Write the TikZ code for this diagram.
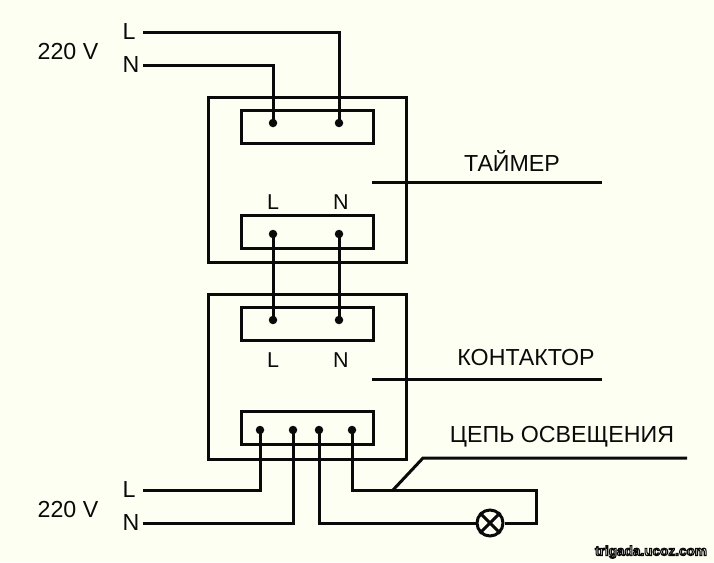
\documentclass[tikz,border=0pt]{standalone}
\usepackage{fontspec}
\setmainfont{Liberation Sans}
\definecolor{paper}{HTML}{FDFFF3}
\definecolor{ink}{HTML}{0A0A0A}
\newcommand{\lbl}{\fontsize{23.2}{27}\selectfont}
\newcommand{\lblsm}{\fontsize{21.5}{25}\selectfont}
\newcommand{\outlined}[1]{\special{pdf:code q 2 Tr 1.1 w 0.04 0.04 0.04 RG}#1\special{pdf:code Q}}
\tikzset{
  wire/.style={ink,line width=3pt},
  box/.style={draw=ink,line width=3pt,rectangle,inner sep=0pt},
  dot/.style={circle,fill=ink,inner sep=0pt,minimum size=8.5pt},
  txt/.style={text=ink,inner sep=0pt,font=\lbl}
}
\begin{document}
\begin{tikzpicture}[x=1pt,y=-1pt]
  \useasboundingbox (0,0) rectangle (714,562);
  \fill[paper] (0,0) rectangle (714,562);
  % boxes
  \node[box,minimum width=198pt,minimum height=165pt] (timer) at (307,179.5) {};
  \node[box,minimum width=198pt,minimum height=165pt] (contactor) at (307,376.5) {};
  \node[box,minimum width=132pt,minimum height=33pt] (tin) at (307,126.5) {};
  \node[box,minimum width=132pt,minimum height=33pt] (tout) at (307,232) {};
  \node[box,minimum width=132pt,minimum height=33pt] (cin) at (307,323.5) {};
  \node[box,minimum width=132pt,minimum height=33pt] (cout) at (307,428) {};
  % terminals
  \node[dot] (tinN) at (273,123) {};
  \node[dot] (tinL) at (339,123) {};
  \node[dot] (toutL) at (273,234) {};
  \node[dot] (toutN) at (339,234) {};
  \node[dot] (cinL) at (273,320) {};
  \node[dot] (cinN) at (339,320) {};
  \node[dot] (cout1) at (260,430) {};
  \node[dot] (cout2) at (293,430) {};
  \node[dot] (cout3) at (319,430) {};
  \node[dot] (cout4) at (352,430) {};
  % texts
  \node[txt] (vtop) at (68,52) {220 V};
  \node[txt] (vbot) at (68,510) {220 V};
  \node[txt] (Ltop) at (129,32) {L};
  \node[txt] (Ntop) at (131,65) {N};
  \node[txt] (Lbot) at (129,490) {L};
  \node[txt] (Nbot) at (131,523) {N};
  \node[txt,font=\lblsm] (Lt) at (273,202) {L};
  \node[txt,font=\lblsm] (Nt) at (341,202) {N};
  \node[txt,font=\lblsm] (Lc) at (273,360) {L};
  \node[txt,font=\lblsm] (Nc) at (341,360) {N};
  \node[txt] (tname) at (512,161) {ТАЙМЕР};
  \node[txt] (cname) at (526,358) {КОНТАКТОР};
  \node[txt] (lname) at (562,436.5) {ЦЕПЬ ОСВЕЩЕНИЯ};
  \node[inner sep=0pt,text=paper,font=\fontsize{13.6}{15}\bfseries\selectfont] (mark) at (651,552) {\outlined{trigada.ucoz.com}};
  % free ends
  \coordinate (inL) at (143,32);
  \coordinate (inN) at (143,65);
  \coordinate (botL) at (143,490);
  \coordinate (botN) at (143,523);
  \coordinate (tlead) at (372,182);
  \coordinate (tleadend) at (602,182);
  \coordinate (clead) at (372,379);
  \coordinate (cleadend) at (602,379);
  \coordinate (lfoot) at (393,490);
  \coordinate (lknee) at (423,458);
  \coordinate (lend) at (687,458);
  \coordinate (lcorner) at (536,490);
  % lamp
  \node[draw=ink,line width=3pt,circle,inner sep=0pt,minimum size=26pt,fill=paper] (lamp) at (490,523) {};
  \draw[wire] (lamp.45) -- (lamp.225);
  \draw[wire] (lamp.135) -- (lamp.-45);
  % wires
  \draw[wire] (inL) -| (tinL.center);
  \draw[wire] (inN) -| (tinN.center);
  \draw[wire] (toutL.center) -- (cinL.center);
  \draw[wire] (toutN.center) -- (cinN.center);
  \draw[wire] (botL) -| (cout1.center);
  \draw[wire] (botN) -| (cout2.center);
  \draw[wire] (cout3.center) |- (lamp);
  \draw[wire] (cout4.center) |- (lcorner) |- (lamp);
  \draw[wire] (tlead) -- (tleadend);
  \draw[wire] (clead) -- (cleadend);
  \draw[wire] (lfoot) -- (lknee) -- (lend);
\end{tikzpicture}
\end{document}
